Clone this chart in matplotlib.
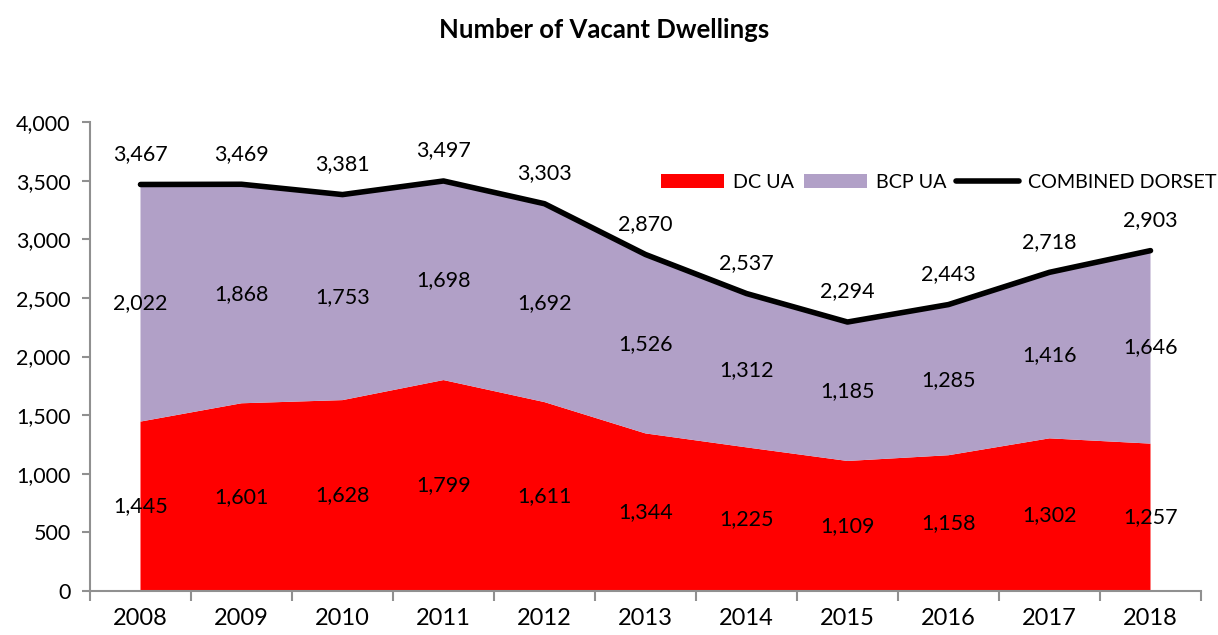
import numpy as np
import matplotlib.pyplot as plt
from matplotlib.ticker import FuncFormatter

plt.rcParams['font.family'] = ['Lato', 'DejaVu Sans']

years = ['2008', '2009', '2010', '2011', '2012', '2013', '2014', '2015', '2016', '2017', '2018']
dc_ua = [1445, 1601, 1628, 1799, 1611, 1344, 1225, 1109, 1158, 1302, 1257]
bcp_ua = [2022, 1868, 1753, 1698, 1692, 1526, 1312, 1185, 1285, 1416, 1646]
combined = [3467, 3469, 3381, 3497, 3303, 2870, 2537, 2294, 2443, 2718, 2903]

x = np.arange(len(years))
dc = np.array(dc_ua)
bcp = np.array(bcp_ua)

fig = plt.figure(figsize=(12.18, 6.35), dpi=100)
ax = fig.add_axes([90 / 1218, 44 / 635, 1111 / 1218, 469 / 635])

ax.stackplot(x, dc, bcp, colors=['#FF0000', '#B1A0C7'], labels=['DC UA', 'BCP UA'])
ax.plot(x, combined, color='black', lw=4, label='COMBINED DORSET', solid_capstyle='round')

fs = 15.5
for i in range(len(x)):
    ax.text(x[i], dc[i] / 2, f'{dc[i]:,}', ha='center', va='center', fontsize=fs)
    ax.text(x[i], dc[i] + bcp[i] / 2, f'{bcp[i]:,}', ha='center', va='center', fontsize=fs)
    ax.text(x[i], combined[i] + 260, f'{combined[i]:,}', ha='center', va='center', fontsize=fs)

ax.set_xlim(-0.5, len(x) - 0.5)
ax.set_ylim(0, 4000)
ax.set_yticks(np.arange(0, 4001, 500))
ax.yaxis.set_major_formatter(FuncFormatter(lambda v, p: f'{int(v):,}'))
ax.set_xticks(x)
ax.set_xticklabels(years)
ax.set_xticks(np.arange(-0.5, len(x), 1), minor=True)
ax.tick_params(axis='x', which='major', length=0, pad=12, labelsize=17)
ax.tick_params(axis='x', which='minor', length=7, color='#909090', width=1.5)
ax.tick_params(axis='y', length=6, color='#909090', width=1.5, labelsize=15.5, pad=8)

for s in ['top', 'right']:
    ax.spines[s].set_visible(False)
for s in ['left', 'bottom']:
    ax.spines[s].set_color('#909090')
    ax.spines[s].set_linewidth(1.5)

ax.legend(loc='upper right', bbox_to_anchor=(1.03, 0.928), ncol=3, frameon=False,
          fontsize=14.2, handlelength=3.2, handletextpad=0.45, columnspacing=0.5)

fig.text(0.496, 0.953, 'Number of Vacant Dwellings', ha='center', va='center',
         fontsize=18.5, fontweight='bold')

fig.savefig('out.png', dpi=100)
